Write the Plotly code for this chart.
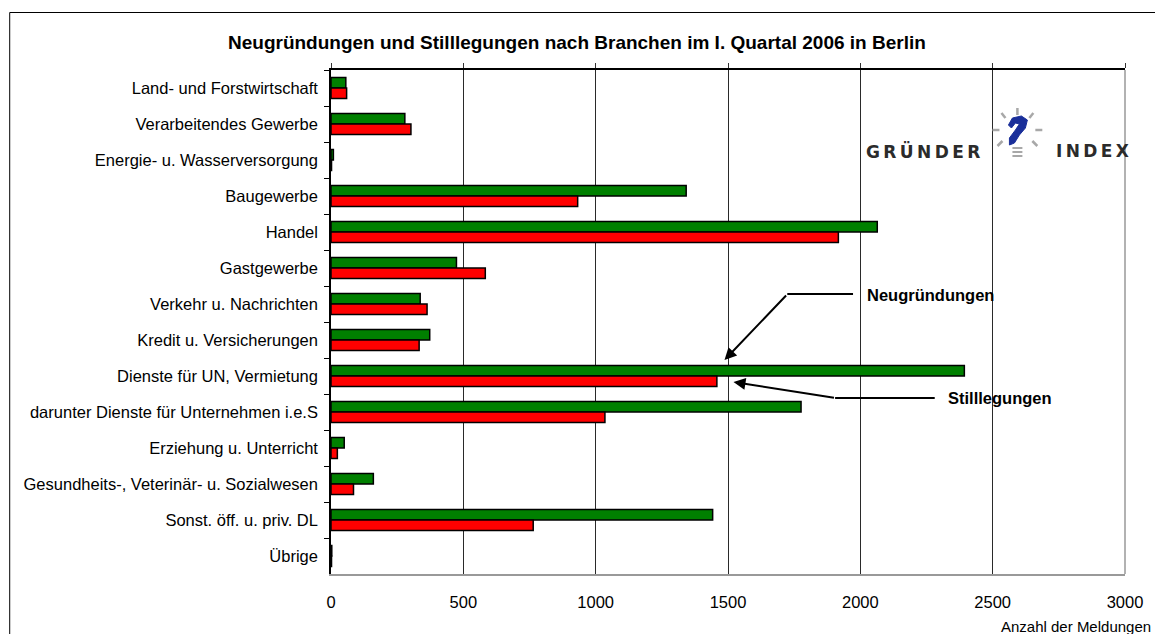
import plotly.graph_objects as go

# ---- data ----
categories = [
    "Land- und Forstwirtschaft",
    "Verarbeitendes Gewerbe",
    "Energie- u. Wasserversorgung",
    "Baugewerbe",
    "Handel",
    "Gastgewerbe",
    "Verkehr u. Nachrichten",
    "Kredit u. Versicherungen",
    "Dienste für UN, Vermietung",
    "darunter Dienste für Unternehmen i.e.S",
    "Erziehung u. Unterricht",
    "Gesundheits-, Veterinär- u. Sozialwesen",
    "Sonst. öff. u. priv. DL",
    "Übrige",
]
neugruendungen = [56, 279, 9, 1342, 2064, 474, 337, 373, 2393, 1776, 50, 160, 1442, 3]
stilllegungen = [59, 302, 2, 932, 1917, 583, 363, 333, 1458, 1035, 24, 85, 764, 2]
x_ticks = [0, 500, 1000, 1500, 2000, 2500, 3000]

title = "Neugründungen und Stilllegungen nach Branchen im I. Quartal 2006 in Berlin"
x_title = "Anzahl der Meldungen"

# ---- layout geometry (page pixels; body margin removed via post_script) ----
W, H = 1155, 634
PL, PR, PT, PB = 331, 1128, 70, 574          # plot area in page pixels
L, R, T, B = PL, W - PR, PT, H - PB
PW, PH = PR - PL, PB - PT


def px(xp):
    return (xp - PL) / PW


def py(yp):
    return (PB - yp) / PH


FONT = "Liberation Sans, Arial, sans-serif"
LOGO_FONT = "DejaVu Sans, sans-serif"
TS = "\u2009"

fig = go.Figure()
fig.add_trace(go.Bar(
    y=categories, x=neugruendungen, orientation="h", name="Neugründungen",
    marker=dict(color="#008000", line=dict(color="black", width=1.5)),
))
fig.add_trace(go.Bar(
    y=categories, x=stilllegungen, orientation="h", name="Stilllegungen",
    marker=dict(color="#FF0000", line=dict(color="black", width=1.5)),
))
# helper trace to draw top axis (ticks only)
fig.add_trace(go.Scatter(
    x=[x_ticks[0], x_ticks[-1]], y=[categories[0], categories[0]], xaxis="x2",
    mode="markers", marker=dict(opacity=0, size=1), hoverinfo="skip", showlegend=False,
))

shapes = []
# white box behind logo hiding gridlines
shapes.append(dict(type="rect", xref="paper", yref="paper",
                   x0=px(868), x1=px(1140), y0=py(167), y1=py(102),
                   fillcolor="white", line=dict(width=0), layer="between"))
# right border of plot area (gray)
shapes.append(dict(type="line", xref="paper", yref="paper",
                   x0=1, x1=1, y0=0, y1=1, line=dict(color="#999999", width=1.5),
                   layer="above"))
# outer frame (left and top edges; the rest lies outside the picture)
shapes.append(dict(type="line", xref="paper", yref="paper",
                   x0=px(8.5), x1=px(8.5), y0=py(12.5), y1=py(640),
                   line=dict(color="black", width=1), layer="below"))
shapes.append(dict(type="line", xref="paper", yref="paper",
                   x0=px(8.5), x1=px(1160), y0=py(12.5), y1=py(12.5),
                   line=dict(color="black", width=1), layer="below"))

# arrows: horizontal segments
shapes.append(dict(type="line", xref="paper", yref="paper",
                   x0=px(789), x1=px(855), y0=py(294), y1=py(294),
                   line=dict(color="black", width=2), layer="above"))
shapes.append(dict(type="line", xref="paper", yref="paper",
                   x0=px(837), x1=px(937), y0=py(398), y1=py(398),
                   line=dict(color="black", width=2), layer="above"))

# logo: light-bulb rays
rays = [((1020, 108), (1020, 115)), ((1004, 113), (1008, 118)), ((1036, 113), (1032, 118)),
        ((995, 130), (1002, 130)), ((1038, 130), (1045, 130)),
        ((1000, 146), (1005, 141)), ((1040, 146), (1035, 141))]
for (a, b) in rays:
    shapes.append(dict(type="line", xref="paper", yref="paper",
                       x0=px(a[0]), y0=py(a[1]), x1=px(b[0]), y1=py(b[1]),
                       line=dict(color="#a8a8a8", width=2.5), layer="above"))
for yy in (148, 152, 156):
    shapes.append(dict(type="line", xref="paper", yref="paper",
                       x0=px(1015), y0=py(yy), x1=px(1025), y1=py(yy),
                       line=dict(color="#a8a8a8", width=2), layer="above"))
# blue swirl (approximation)
swirl = [(1011, 125), (1015, 118), (1024, 116), (1030, 120), (1028, 128),
         (1022, 135), (1017, 143), (1012, 145), (1012, 138), (1018, 130),
         (1022, 124), (1018, 123), (1014, 128)]
path = "M " + " L ".join(f"{px(a)},{py(b)}" for a, b in swirl) + " Z"
shapes.append(dict(type="path", xref="paper", yref="paper", path=path,
                   fillcolor="#1a2f9a", line=dict(color="#1a2f9a", width=1), layer="above"))

annotations = [
    dict(text=f"<b>{title}</b>", xref="paper", yref="paper", x=px(578), y=py(43),
         showarrow=False, font=dict(family=FONT, size=19, color="black"),
         xanchor="center", yanchor="middle"),
    dict(text=x_title, xref="paper", yref="paper", x=px(1155), y=py(626),
         showarrow=False, font=dict(family=FONT, size=15, color="black"),
         xanchor="right", yanchor="middle", borderpad=0),
    dict(text="<b>Neugründungen</b>", xref="paper", yref="paper", x=px(867), y=py(295),
         showarrow=False, font=dict(family=FONT, size=16.5, color="black"),
         xanchor="left", yanchor="middle"),
    dict(text="<b>Stilllegungen</b>", xref="paper", yref="paper", x=px(948), y=py(398),
         showarrow=False, font=dict(family=FONT, size=16.5, color="black"),
         xanchor="left", yanchor="middle"),
    # arrow heads (diagonal segments)
    dict(text="", xref="paper", yref="paper", x=px(726), y=py(360),
         ax=789 - 726, ay=294 - 360, showarrow=True, arrowhead=2, arrowsize=1.2,
         arrowwidth=2, arrowcolor="black", standoff=0),
    dict(text="", xref="paper", yref="paper", x=px(735), y=py(382),
         ax=837 - 735, ay=398 - 382, showarrow=True, arrowhead=2, arrowsize=1.2,
         arrowwidth=2, arrowcolor="black", standoff=0),
    # logo text
    dict(text="<b>" + TS.join("GRÜNDER") + "</b>", xref="paper", yref="paper",
         x=px(866), y=py(151), showarrow=False,
         font=dict(family=LOGO_FONT, size=17, color="#2b2b2b"),
         xanchor="left", yanchor="middle"),
    dict(text="<b>" + TS.join("INDEX") + "</b>", xref="paper", yref="paper",
         x=px(1134), y=py(151), showarrow=False,
         font=dict(family=LOGO_FONT, size=17, color="#2b2b2b"),
         xanchor="right", yanchor="middle"),
]

n = len(categories)
fig.update_layout(
    width=W, height=H,
    margin=dict(l=L, r=R, t=T, b=B),
    paper_bgcolor="white", plot_bgcolor="white",
    barmode="group", bargap=0.42, bargroupgap=0.0,
    showlegend=False,
    font=dict(family=FONT, color="black"),
    xaxis=dict(range=[x_ticks[0], x_ticks[-1]], tickvals=x_ticks,
               showgrid=True, gridcolor="#2a2a2a", gridwidth=1,
               zeroline=False, showline=True, linecolor="#999999", linewidth=1.5,
               ticks="", ticklabelstandoff=12,
               tickfont=dict(family=FONT, size=16.5, color="black")),
    xaxis2=dict(range=[x_ticks[0], x_ticks[-1]], tickvals=x_ticks, overlaying="x",
                side="top", anchor="y", showgrid=False, zeroline=False,
                showline=True, linecolor="black", linewidth=1.5,
                ticks="outside", ticklen=5, tickcolor="#333333", tickwidth=1,
                showticklabels=False),
    yaxis=dict(categoryorder="array", categoryarray=categories,
               range=[n - 0.5, -0.5], autorange=False,
               showgrid=False, zeroline=False, showline=True, linecolor="black",
               linewidth=1.5, ticks="outside", ticklen=5, tickcolor="black",
               tickson="boundaries", ticklabelstandoff=8,
               tickfont=dict(family=FONT, size=16.5, color="black")),
    shapes=shapes,
    annotations=annotations,
)

fig.write_html(
    "out.html",
    config={"displayModeBar": False},
    post_script="document.body.style.margin='0';document.body.style.overflow='hidden';",
)
